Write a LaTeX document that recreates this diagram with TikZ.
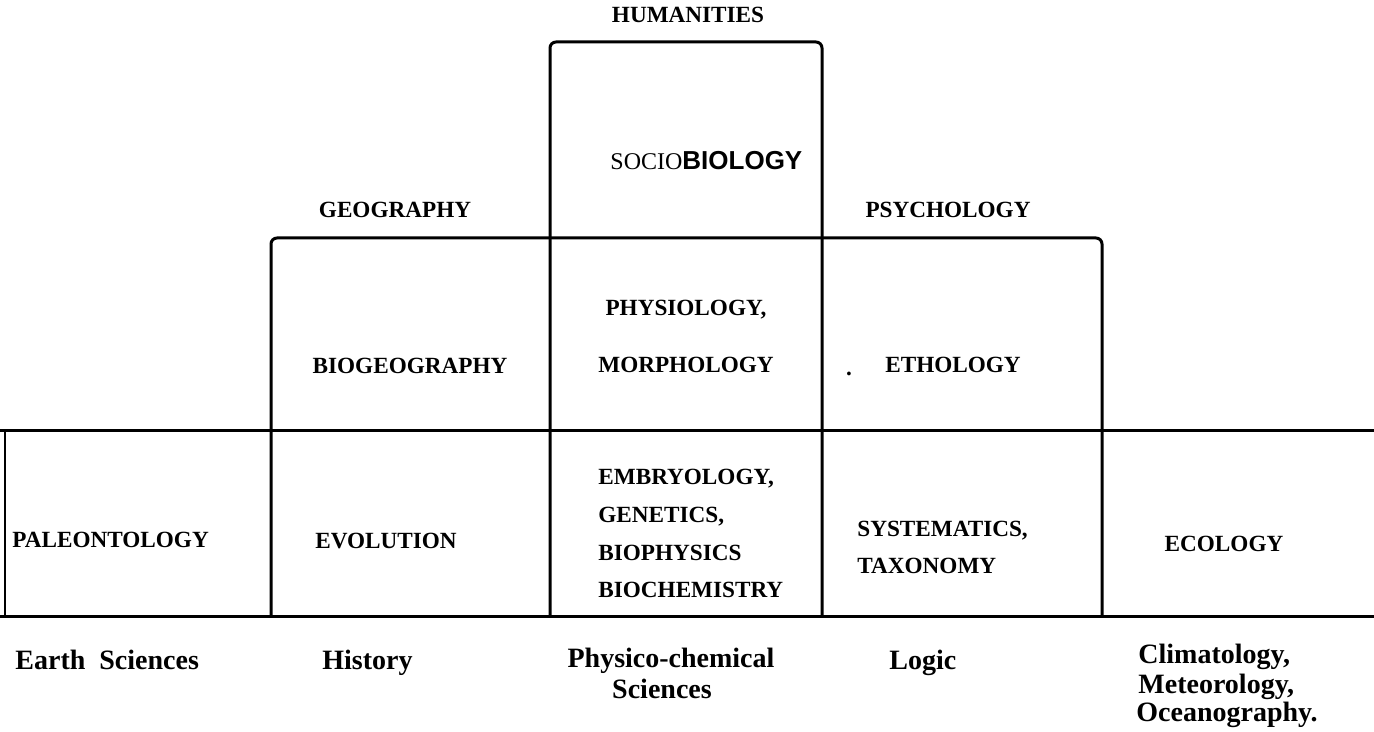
\documentclass[tikz,border=0pt]{standalone}
\usepackage{fontspec}
\setmainfont{Liberation Serif}
\newfontfamily\handfont{Liberation Sans}
\begin{document}
\begin{tikzpicture}[x=0.5pt,y=-0.5pt,
  rule/.style={line width=1.5pt},
  thinrule/.style={line width=0.9pt},
  caps/.style={inner sep=0pt,font=\fontsize{11.6}{14}\selectfont\bfseries},
  lower/.style={inner sep=0pt,font=\fontsize{14}{15}\selectfont\bfseries}]
\useasboundingbox (0,0) rectangle (1374,732);
% grid lines
\coordinate (mL) at (271,616); \coordinate (mR) at (1102,616);
\draw[rule, rounded corners=3pt] (271,616) -- (271,238) -- (1102,238) -- (1102,616);
\draw[rule, rounded corners=3pt] (550,616) -- (550,42) -- (822,42) -- (822,616);
\draw[rule] (0,430) -- (1374,430);
\draw[rule] (0,616) -- (1374,616);
\draw[thinrule] (5,430) -- (5,616);
% top labels
\node[caps, anchor=base] (hum) at (688,23) {HUMANITIES};
\node[inner sep=0pt, anchor=base west] (socio) at (610,170)
  {\fontsize{12}{14}\selectfont SOCIO\handfont\bfseries\fontsize{13}{14}\selectfont BIOLOGY};
\node[caps, anchor=base] (geo) at (395,218) {GEOGRAPHY};
\node[caps, anchor=base] (psy) at (948,218) {PSYCHOLOGY};
% middle row
\node[caps, anchor=base] (biogeo) at (410,373) {BIOGEOGRAPHY};
\node[caps, anchor=base] (phys) at (686,315) {PHYSIOLOGY,};
\node[caps, anchor=base] (morph) at (686,372) {MORPHOLOGY};
\node[caps, anchor=base] (dot) at (849,375) {.};
\node[caps, anchor=base] (etho) at (953,372) {ETHOLOGY};
% bottom row
\node[caps, anchor=base west] (paleo) at (12,547) {PALEONTOLOGY};
\node[caps, anchor=base] (evol) at (386,548) {EVOLUTION};
\node[caps, anchor=base west] (embr) at (598,484) {EMBRYOLOGY,};
\node[caps, anchor=base west] (gene) at (598,522) {GENETICS,};
\node[caps, anchor=base west] (biop) at (598,560) {BIOPHYSICS};
\node[caps, anchor=base west] (bioc) at (598,597) {BIOCHEMISTRY};
\node[caps, anchor=base west] (syst) at (857,536) {SYSTEMATICS,};
\node[caps, anchor=base west] (taxo) at (857,573) {TAXONOMY};
\node[caps, anchor=base] (ecol) at (1224,551) {ECOLOGY};
% below
\node[lower, anchor=base west] (earth) at (15,669) {Earth\ \ Sciences};
\node[lower, anchor=base west] (hist) at (322,669) {History};
\node[lower, anchor=base] (physc) at (671,667) {Physico-chemical};
\node[lower, anchor=base] (sci) at (662,698) {Sciences};
\node[lower, anchor=base west] (logic) at (889,669) {Logic};
\node[lower, anchor=base west] (clim) at (1138,663) {Climatology,};
\node[lower, anchor=base west] (mete) at (1138,693) {Meteorology,};
\node[lower, anchor=base west] (ocea) at (1136,721) {Oceanography.};
\end{tikzpicture}
\end{document}
